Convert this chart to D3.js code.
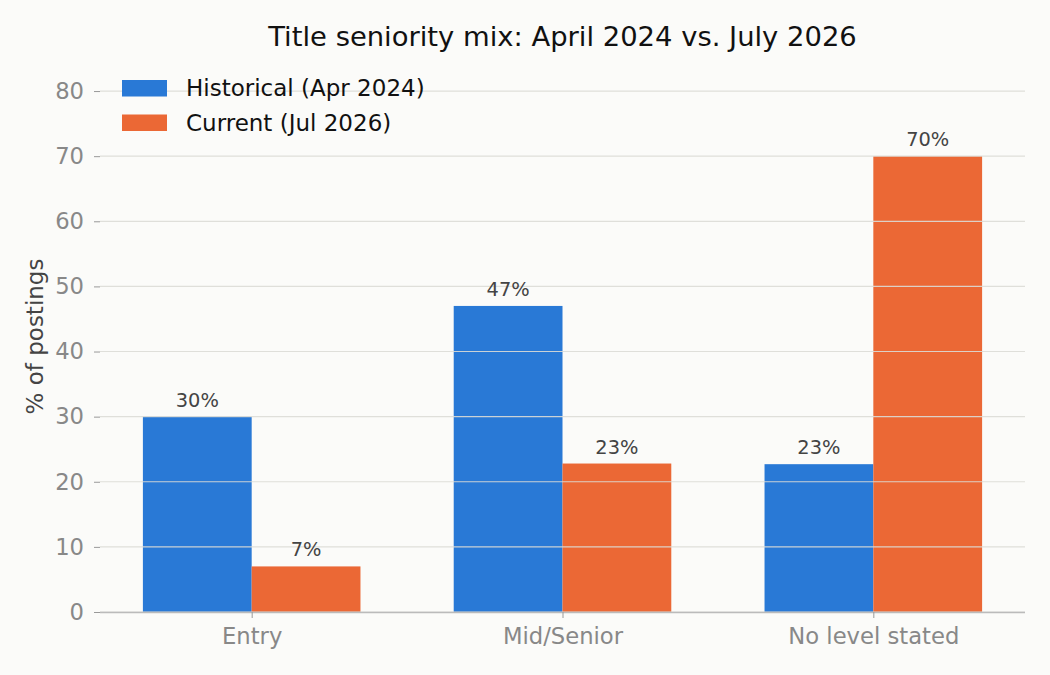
<!DOCTYPE html>
<meta charset="utf-8">
<html>
<head>
<style>
  body { margin: 0; background: #fbfbf9; }
  text { font-family: "DejaVu Sans", sans-serif; }
</style>
</head>
<body>
<script src="https://d3js.org/d3.v7.min.js"></script>
<div id="chart"></div>
<script>

    // data
    var categories = ["Entry", "Mid/Senior", "No level stated"];
    var historical = [30, 47, 22.7];
    var current = [7, 22.8, 70];
    var barLabels = [["30%", "47%", "23%"], ["7%", "23%", "70%"]];
    var seriesNames = ["Historical (Apr 2024)", "Current (Jul 2026)"];
    var yTicks = [0, 10, 20, 30, 40, 50, 60, 70, 80];

    var colors = ["#2979d6", "#eb6835"];

    var margin = {top: 65, right: 25, bottom: 63, left: 100},
        width = 1050 - margin.left - margin.right,
        height = 675 - margin.top - margin.bottom;

    var svg = d3.select("#chart")
      .append("svg")
        .attr("width", 1050)
        .attr("height", 675)
        .style("background", "#fbfbf9");

    var g = svg.append("g")
        .attr("transform", "translate(" + margin.left + "," + margin.top + ")");

    // title
    svg.append("text")
        .attr("x", margin.left + width / 2)
        .attr("y", 46)
        .attr("text-anchor", "middle")
        .style("font-size", "27.4px")
        .style("fill", "#111")
        .text("Title seniority mix: April 2024 vs. July 2026");

    // x is a position scale like matplotlib (0,1,2), bars are 0.35 wide
    var barW = 0.35;
    var x = d3.scaleLinear()
        .domain([-0.488, 2.488])
        .range([0, width]);

    var y = d3.scaleLinear()
        .domain([0, 84])
        .range([height, 0]);

    // bars
    var series = [historical, current];
    series.forEach(function(vals, s) {
      g.selectAll(".bar" + s)
        .data(vals)
        .enter()
        .append("rect")
          .attr("x", function(d, i) { return x(i + (s - 1) * barW); })
          .attr("y", function(d) { return y(d); })
          .attr("width", x(barW) - x(0))
          .attr("height", function(d) { return y(0) - y(d); })
          .style("fill", colors[s]);
    });

    // gridlines (drawn over the bars)
    g.selectAll(".grid")
      .data(yTicks)
      .enter()
      .append("line")
        .attr("x1", 0)
        .attr("x2", width)
        .attr("y1", function(d) { return y(d); })
        .attr("y2", function(d) { return y(d); })
        .style("stroke", "#dcdcd6")
        .style("stroke-opacity", 0.9)
        .style("stroke-width", 1.2);

    // bar value labels
    series.forEach(function(vals, s) {
      g.selectAll(".lab" + s)
        .data(vals)
        .enter()
        .append("text")
          .attr("x", function(d, i) { return x(i + (s - 0.5) * barW); })
          .attr("y", function(d) { return y(d) - 10; })
          .attr("text-anchor", "middle")
          .style("font-size", "19.4px")
          .style("fill", "#444")
          .text(function(d, i) { return barLabels[s][i]; });
    });

    // y axis
    var yAxis = g.append("g")
        .call(d3.axisLeft(y).tickValues(yTicks).tickSize(6).tickPadding(10));
    yAxis.select(".domain").remove();
    yAxis.selectAll(".tick line").style("stroke", "#999");
    yAxis.selectAll(".tick text")
        .style("font-size", "22.7px")
        .style("fill", "#888")
        .style("font-family", "DejaVu Sans, sans-serif");

    // x axis
    var xAxis = g.append("g")
        .attr("transform", "translate(0," + height + ")")
        .call(d3.axisBottom(x).tickValues([0, 1, 2])
              .tickFormat(function(d) { return categories[d]; })
              .tickSize(6).tickPadding(10));
    xAxis.select(".domain")
        .attr("d", "M0,0.5H" + width)
        .style("stroke", "#bbb")
        .style("stroke-width", 1.5);
    xAxis.selectAll(".tick line").style("stroke", "#999");
    xAxis.selectAll(".tick text")
        .style("font-size", "22.7px")
        .style("fill", "#888")
        .style("font-family", "DejaVu Sans, sans-serif");

    // y label
    svg.append("text")
        .attr("transform", "translate(43," + (margin.top + height / 2 - 2) + ") rotate(-90)")
        .attr("text-anchor", "middle")
        .style("font-size", "23px")
        .style("fill", "#444")
        .text("% of postings");

    // legend
    var legend = svg.append("g")
        .attr("transform", "translate(122,80)");
    seriesNames.forEach(function(name, s) {
      legend.append("rect")
          .attr("x", 0)
          .attr("y", s * 34.5)
          .attr("width", 45)
          .attr("height", 16.5)
          .style("fill", colors[s]);
      legend.append("text")
          .attr("x", 64)
          .attr("y", s * 34.5 + 16)
          .style("font-size", "23px")
          .style("fill", "#111")
          .text(name);
    });

</script>
</body>
</html>
